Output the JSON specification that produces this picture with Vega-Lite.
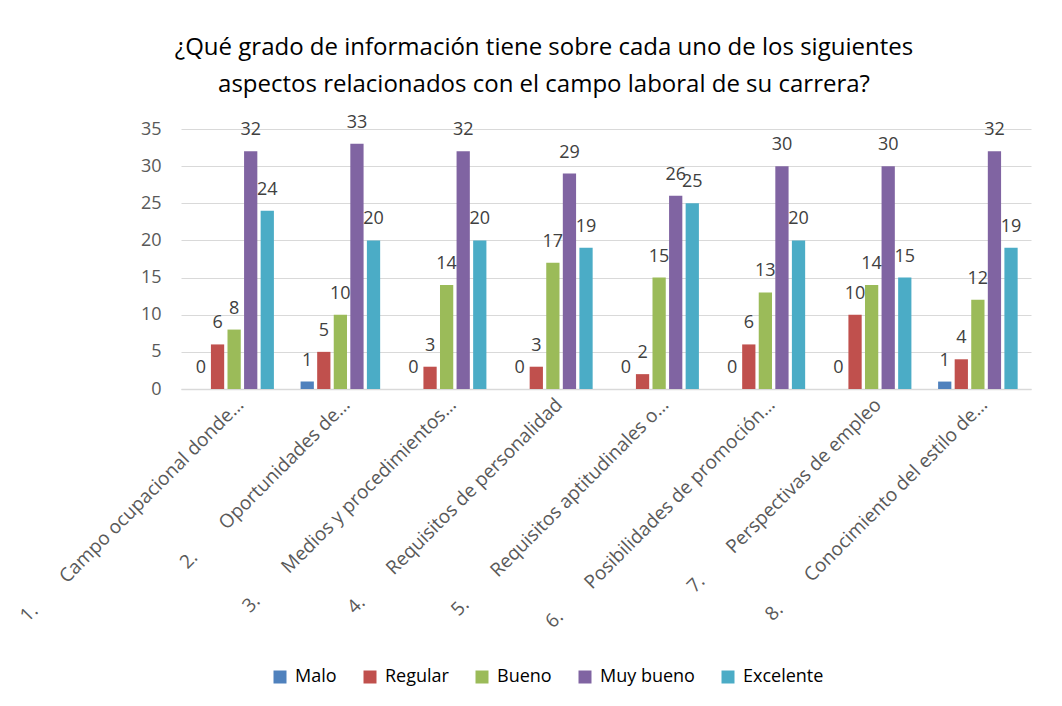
{
  "$schema": "https://vega.github.io/schema/vega-lite/v6.json",
  "width": 850,
  "height": 260,
  "autosize": {"type": "none"},
  "padding": {"left": 181, "top": 129, "right": 31, "bottom": 317},
  "background": "white",
  "title": {
    "text": ["¿Qué grado de información tiene sobre cada uno de los siguientes", "aspectos relacionados con el campo laboral de su carrera?"],
    "font": "Open Sans",
    "fontSize": 24,
    "fontWeight": "normal",
    "color": "#000000",
    "anchor": "middle",
    "dx": -62,
    "offset": 17,
    "lineHeight": 37
  },
  "data": {
    "values": [
      {"aspecto": "1.\u00a0\u00a0\u00a0\u00a0\u00a0\u00a0\u00a0\u00a0Campo ocupacional donde…", "orden": 1, "nivel": "Malo", "valor": 0},
      {"aspecto": "1.\u00a0\u00a0\u00a0\u00a0\u00a0\u00a0\u00a0\u00a0Campo ocupacional donde…", "orden": 1, "nivel": "Regular", "valor": 6},
      {"aspecto": "1.\u00a0\u00a0\u00a0\u00a0\u00a0\u00a0\u00a0\u00a0Campo ocupacional donde…", "orden": 1, "nivel": "Bueno", "valor": 8},
      {"aspecto": "1.\u00a0\u00a0\u00a0\u00a0\u00a0\u00a0\u00a0\u00a0Campo ocupacional donde…", "orden": 1, "nivel": "Muy bueno", "valor": 32},
      {"aspecto": "1.\u00a0\u00a0\u00a0\u00a0\u00a0\u00a0\u00a0\u00a0Campo ocupacional donde…", "orden": 1, "nivel": "Excelente", "valor": 24},
      {"aspecto": "2.\u00a0\u00a0\u00a0\u00a0\u00a0\u00a0\u00a0\u00a0Oportunidades de…", "orden": 2, "nivel": "Malo", "valor": 1},
      {"aspecto": "2.\u00a0\u00a0\u00a0\u00a0\u00a0\u00a0\u00a0\u00a0Oportunidades de…", "orden": 2, "nivel": "Regular", "valor": 5},
      {"aspecto": "2.\u00a0\u00a0\u00a0\u00a0\u00a0\u00a0\u00a0\u00a0Oportunidades de…", "orden": 2, "nivel": "Bueno", "valor": 10},
      {"aspecto": "2.\u00a0\u00a0\u00a0\u00a0\u00a0\u00a0\u00a0\u00a0Oportunidades de…", "orden": 2, "nivel": "Muy bueno", "valor": 33},
      {"aspecto": "2.\u00a0\u00a0\u00a0\u00a0\u00a0\u00a0\u00a0\u00a0Oportunidades de…", "orden": 2, "nivel": "Excelente", "valor": 20},
      {"aspecto": "3.\u00a0\u00a0\u00a0\u00a0\u00a0\u00a0\u00a0\u00a0Medios y procedimientos…", "orden": 3, "nivel": "Malo", "valor": 0},
      {"aspecto": "3.\u00a0\u00a0\u00a0\u00a0\u00a0\u00a0\u00a0\u00a0Medios y procedimientos…", "orden": 3, "nivel": "Regular", "valor": 3},
      {"aspecto": "3.\u00a0\u00a0\u00a0\u00a0\u00a0\u00a0\u00a0\u00a0Medios y procedimientos…", "orden": 3, "nivel": "Bueno", "valor": 14},
      {"aspecto": "3.\u00a0\u00a0\u00a0\u00a0\u00a0\u00a0\u00a0\u00a0Medios y procedimientos…", "orden": 3, "nivel": "Muy bueno", "valor": 32},
      {"aspecto": "3.\u00a0\u00a0\u00a0\u00a0\u00a0\u00a0\u00a0\u00a0Medios y procedimientos…", "orden": 3, "nivel": "Excelente", "valor": 20},
      {"aspecto": "4.\u00a0\u00a0\u00a0\u00a0\u00a0\u00a0\u00a0\u00a0Requisitos de personalidad", "orden": 4, "nivel": "Malo", "valor": 0},
      {"aspecto": "4.\u00a0\u00a0\u00a0\u00a0\u00a0\u00a0\u00a0\u00a0Requisitos de personalidad", "orden": 4, "nivel": "Regular", "valor": 3},
      {"aspecto": "4.\u00a0\u00a0\u00a0\u00a0\u00a0\u00a0\u00a0\u00a0Requisitos de personalidad", "orden": 4, "nivel": "Bueno", "valor": 17},
      {"aspecto": "4.\u00a0\u00a0\u00a0\u00a0\u00a0\u00a0\u00a0\u00a0Requisitos de personalidad", "orden": 4, "nivel": "Muy bueno", "valor": 29},
      {"aspecto": "4.\u00a0\u00a0\u00a0\u00a0\u00a0\u00a0\u00a0\u00a0Requisitos de personalidad", "orden": 4, "nivel": "Excelente", "valor": 19},
      {"aspecto": "5.\u00a0\u00a0\u00a0\u00a0\u00a0\u00a0\u00a0\u00a0Requisitos aptitudinales o…", "orden": 5, "nivel": "Malo", "valor": 0},
      {"aspecto": "5.\u00a0\u00a0\u00a0\u00a0\u00a0\u00a0\u00a0\u00a0Requisitos aptitudinales o…", "orden": 5, "nivel": "Regular", "valor": 2},
      {"aspecto": "5.\u00a0\u00a0\u00a0\u00a0\u00a0\u00a0\u00a0\u00a0Requisitos aptitudinales o…", "orden": 5, "nivel": "Bueno", "valor": 15},
      {"aspecto": "5.\u00a0\u00a0\u00a0\u00a0\u00a0\u00a0\u00a0\u00a0Requisitos aptitudinales o…", "orden": 5, "nivel": "Muy bueno", "valor": 26},
      {"aspecto": "5.\u00a0\u00a0\u00a0\u00a0\u00a0\u00a0\u00a0\u00a0Requisitos aptitudinales o…", "orden": 5, "nivel": "Excelente", "valor": 25},
      {"aspecto": "6.\u00a0\u00a0\u00a0\u00a0\u00a0\u00a0\u00a0\u00a0Posibilidades de promoción…", "orden": 6, "nivel": "Malo", "valor": 0},
      {"aspecto": "6.\u00a0\u00a0\u00a0\u00a0\u00a0\u00a0\u00a0\u00a0Posibilidades de promoción…", "orden": 6, "nivel": "Regular", "valor": 6},
      {"aspecto": "6.\u00a0\u00a0\u00a0\u00a0\u00a0\u00a0\u00a0\u00a0Posibilidades de promoción…", "orden": 6, "nivel": "Bueno", "valor": 13},
      {"aspecto": "6.\u00a0\u00a0\u00a0\u00a0\u00a0\u00a0\u00a0\u00a0Posibilidades de promoción…", "orden": 6, "nivel": "Muy bueno", "valor": 30},
      {"aspecto": "6.\u00a0\u00a0\u00a0\u00a0\u00a0\u00a0\u00a0\u00a0Posibilidades de promoción…", "orden": 6, "nivel": "Excelente", "valor": 20},
      {"aspecto": "7.\u00a0\u00a0\u00a0\u00a0\u00a0\u00a0\u00a0\u00a0Perspectivas de empleo", "orden": 7, "nivel": "Malo", "valor": 0},
      {"aspecto": "7.\u00a0\u00a0\u00a0\u00a0\u00a0\u00a0\u00a0\u00a0Perspectivas de empleo", "orden": 7, "nivel": "Regular", "valor": 10},
      {"aspecto": "7.\u00a0\u00a0\u00a0\u00a0\u00a0\u00a0\u00a0\u00a0Perspectivas de empleo", "orden": 7, "nivel": "Bueno", "valor": 14},
      {"aspecto": "7.\u00a0\u00a0\u00a0\u00a0\u00a0\u00a0\u00a0\u00a0Perspectivas de empleo", "orden": 7, "nivel": "Muy bueno", "valor": 30},
      {"aspecto": "7.\u00a0\u00a0\u00a0\u00a0\u00a0\u00a0\u00a0\u00a0Perspectivas de empleo", "orden": 7, "nivel": "Excelente", "valor": 15},
      {"aspecto": "8.\u00a0\u00a0\u00a0\u00a0\u00a0\u00a0\u00a0\u00a0Conocimiento del estilo de…", "orden": 8, "nivel": "Malo", "valor": 1},
      {"aspecto": "8.\u00a0\u00a0\u00a0\u00a0\u00a0\u00a0\u00a0\u00a0Conocimiento del estilo de…", "orden": 8, "nivel": "Regular", "valor": 4},
      {"aspecto": "8.\u00a0\u00a0\u00a0\u00a0\u00a0\u00a0\u00a0\u00a0Conocimiento del estilo de…", "orden": 8, "nivel": "Bueno", "valor": 12},
      {"aspecto": "8.\u00a0\u00a0\u00a0\u00a0\u00a0\u00a0\u00a0\u00a0Conocimiento del estilo de…", "orden": 8, "nivel": "Muy bueno", "valor": 32},
      {"aspecto": "8.\u00a0\u00a0\u00a0\u00a0\u00a0\u00a0\u00a0\u00a0Conocimiento del estilo de…", "orden": 8, "nivel": "Excelente", "valor": 19}
    ]
  },
  "encoding": {
    "x": {
      "field": "aspecto",
      "type": "nominal",
      "sort": {"field": "orden"},
      "scale": {"paddingInner": 0.22, "paddingOuter": 0.11},
      "axis": {
        "title": null,
        "labelAngle": -45,
        "labelAlign": "right",
        "labelBaseline": "top",
        "labelPadding": 6,
        "labelFont": "Open Sans",
        "labelFontSize": 19,
        "labelColor": "#595959",
        "labelLimit": 400,
        "ticks": false,
        "domainColor": "#d9d9d9",
        "domainWidth": 1.5
      }
    },
    "xOffset": {
      "field": "nivel",
      "type": "nominal",
      "sort": ["Malo", "Regular", "Bueno", "Muy bueno", "Excelente"],
      "scale": {"paddingInner": 0.2, "paddingOuter": 0.1}
    },
    "y": {
      "field": "valor",
      "type": "quantitative",
      "scale": {"domain": [0, 35]},
      "axis": {
        "title": null,
        "values": [0, 5, 10, 15, 20, 25, 30, 35],
        "domain": false,
        "ticks": false,
        "labelPadding": 20,
        "labelFont": "Open Sans",
        "labelFontSize": 18,
        "labelColor": "#595959",
        "gridColor": "#d9d9d9",
        "gridWidth": 1
      }
    }
  },
  "layer": [
    {
      "mark": {"type": "bar"},
      "encoding": {
        "color": {
          "field": "nivel",
          "type": "nominal",
          "sort": ["Malo", "Regular", "Bueno", "Muy bueno", "Excelente"],
          "scale": {
            "domain": ["Malo", "Regular", "Bueno", "Muy bueno", "Excelente"],
            "range": ["#4F81BD", "#C0504D", "#9BBB59", "#8064A2", "#4BACC6"]
          },
          "legend": {
            "title": null,
            "orient": "none",
            "direction": "horizontal",
            "legendX": 90,
            "legendY": 539,
            "symbolType": "square",
            "symbolSize": 169,
            "symbolStrokeWidth": 0,
            "symbolOpacity": 1,
            "labelFont": "Open Sans",
            "labelFontSize": 18,
            "labelColor": "#000000",
            "labelOffset": 6,
            "columnPadding": 24
          }
        }
      }
    },
    {
      "mark": {"type": "text", "baseline": "bottom", "dy": -12, "font": "Open Sans", "fontSize": 18, "color": "#404040"},
      "encoding": {
        "text": {"field": "valor", "type": "quantitative"}
      }
    }
  ],
  "config": {
    "view": {"stroke": null}
  }
}
